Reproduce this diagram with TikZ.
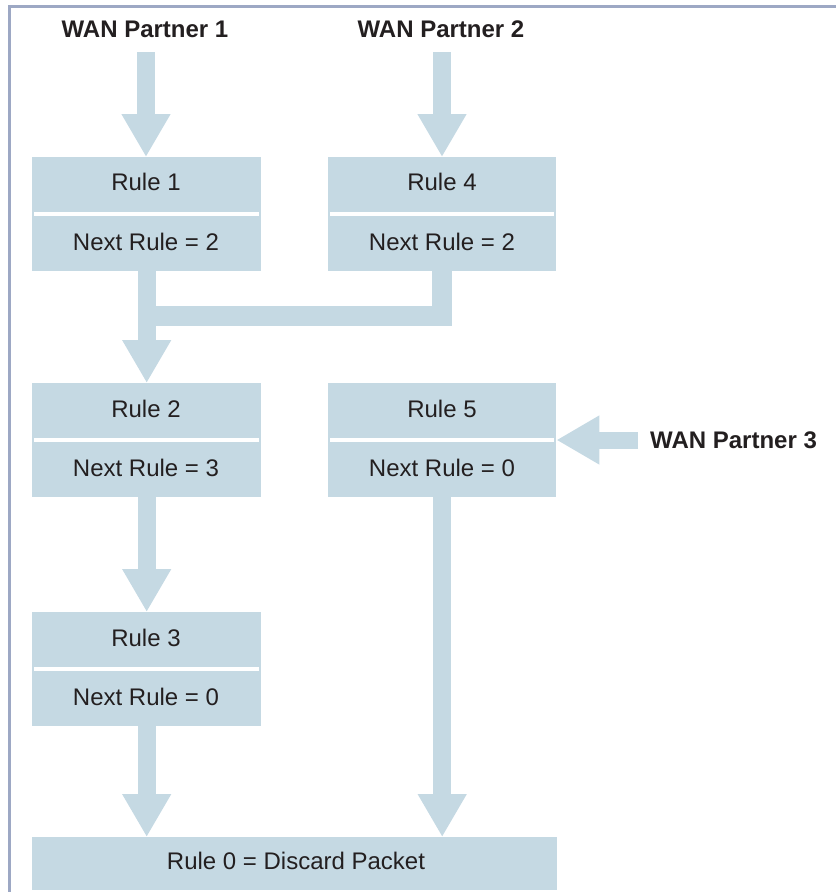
\documentclass[tikz,border=0pt]{standalone}
\usepackage{fontspec}
\setmainfont{Liberation Sans}
\usetikzlibrary{arrows.meta}
\definecolor{boxblue}{RGB}{197,217,227}
\definecolor{frameblue}{RGB}{157,168,196}
\definecolor{txt}{RGB}{35,31,32}
\tikzset{
  rulebox/.style={rectangle, fill=boxblue, draw=none, anchor=north west, inner sep=0pt},
  ruletxt/.style={anchor=base, inner sep=0pt, text=txt, font=\fontsize{24}{28}\selectfont},
  wantxt/.style={anchor=base, inner sep=0pt, text=txt, font=\fontsize{24}{28}\selectfont\bfseries},
  sepline/.style={draw=white, line width=4.5pt},
  bigarrow/.style={draw=boxblue, line width=18pt, -{Triangle[length=43pt,width=46pt]}},
  barline/.style={draw=boxblue, line width=20pt, line join=miter},
  frameline/.style={draw=frameblue, line width=3pt},
}
\begin{document}
\begin{tikzpicture}[x=1pt,y=-1pt]
\useasboundingbox (0,0) rectangle (836,892);
% frame
\draw[frameline] (9.5,892) -- (9.5,6.5) -- (836,6.5);

% boxes
\node[rulebox, minimum width=229pt, minimum height=114pt] (r1) at (32,157) {};
\node[rulebox, minimum width=228pt, minimum height=114pt] (r4) at (328,157) {};
\node[rulebox, minimum width=229pt, minimum height=114pt] (r2) at (32,383) {};
\node[rulebox, minimum width=228pt, minimum height=114pt] (r5) at (328,383) {};
\node[rulebox, minimum width=229pt, minimum height=114pt] (r3) at (32,612) {};
\node[rulebox, minimum width=525pt, minimum height=53pt] (r0) at (32,837) {};

% separators
\foreach \b in {r1,r4,r2,r5,r3}{
  \draw[sepline] ([xshift=2pt]\b.west) -- ([xshift=-2pt]\b.east);
}

% box texts
\node[ruletxt] (r1a) at (146,190) {Rule 1};
\node[ruletxt] (r1b) at (146,250) {Next Rule = 2};
\node[ruletxt] (r4a) at (442,190) {Rule 4};
\node[ruletxt] (r4b) at (442,250) {Next Rule = 2};
\node[ruletxt] (r2a) at (146,417) {Rule 2};
\node[ruletxt] (r2b) at (146,476) {Next Rule = 3};
\node[ruletxt] (r5a) at (442,417) {Rule 5};
\node[ruletxt] (r5b) at (442,476) {Next Rule = 0};
\node[ruletxt] (r3a) at (146,646) {Rule 3};
\node[ruletxt] (r3b) at (146,705) {Next Rule = 0};
\node[ruletxt] (r0a) at (296,869) {Rule 0 = Discard Packet};

% WAN partner labels
\node[wantxt] (w1) at (145,37) {WAN Partner 1};
\node[wantxt] (w2) at (441,37) {WAN Partner 2};
\node[wantxt, anchor=base west] (w3) at (650,448) {WAN Partner 3};

% connectors
\coordinate (w1s) at (146,52);
\coordinate (w2s) at (442,52);
\coordinate (w3s) at (638,440);
\draw[bigarrow] (w1s) -- (w1s |- r1.north);
\draw[bigarrow] (w2s) -- (w2s |- r4.north);
\draw[bigarrow, line width=17pt] (w3s) -- (r5.east |- w3s);

\coordinate (r1o) at ([yshift=5pt]r1.south);
\coordinate (r4o) at ([yshift=4pt]r4.south);
\coordinate (join) at (155,316);
\draw[barline] (r4o) |- (join);
\draw[bigarrow] (r1o) -- (r2.north);

\draw[bigarrow] ([yshift=5pt]r2.south) -- (r3.north);
\draw[bigarrow] ([yshift=5pt]r3.south) -- (r3.south |- r0.north);
\draw[bigarrow] ([yshift=6pt]r5.south) -- (r5.south |- r0.north);
\end{tikzpicture}
\end{document}
